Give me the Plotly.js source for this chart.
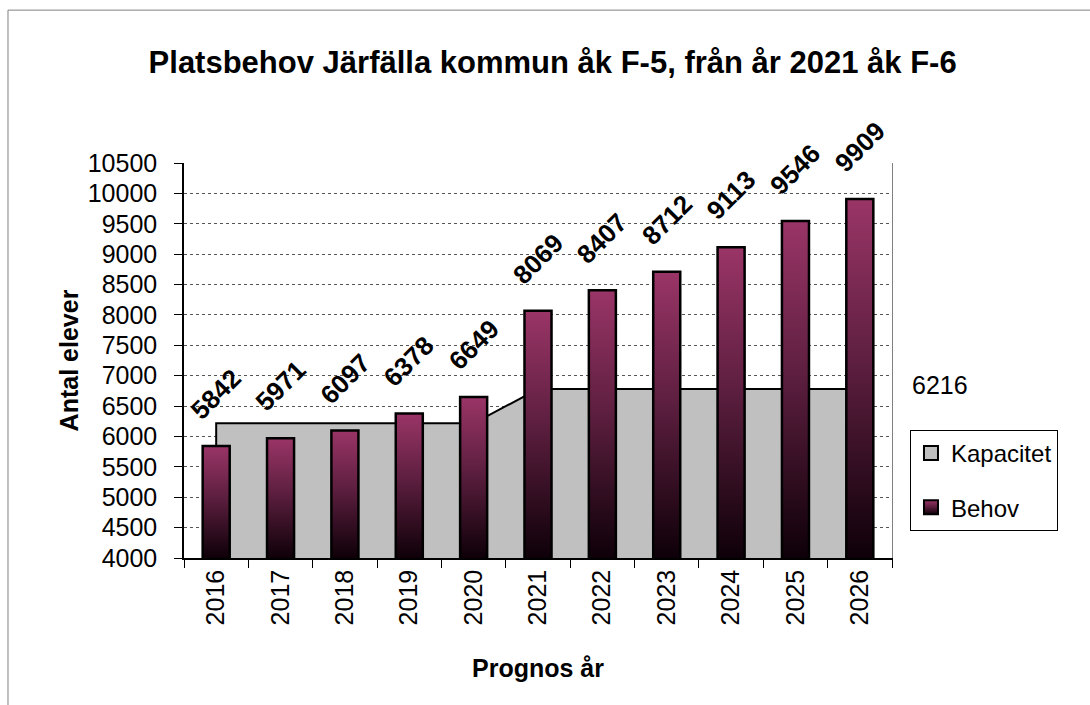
<!DOCTYPE html>
<html>
<head>
<meta charset="utf-8">
<script src="https://cdn.plot.ly/plotly-3.0.1.min.js"></script>
<style>
  html, body { margin: 0; padding: 0; background: #fff; }
  #chart { width: 1090px; height: 705px; }
</style>
</head>
<body>
<div id="chart"></div>
<script>
const years = ['2016', '2017', '2018', '2019', '2020', '2021', '2022', '2023', '2024', '2025', '2026'];
const behov = [5842, 5971, 6097, 6378, 6649, 8069, 8407, 8712, 9113, 9546, 9909];
const kapacitet = [6216, 6216, 6216, 6216, 6216, 6780, 6780, 6780, 6780, 6780, 6780];
const seriesNames = ['Kapacitet', 'Behov'];
const titleText = 'Platsbehov Järfälla kommun åk F-5, från år 2021 åk F-6';
const xTitle = 'Prognos år';
const yTitle = 'Antal elever';

const FONT = 'Liberation Sans, Arial, sans-serif';

const traces = [
  {
    type: 'scatter', mode: 'lines', x: years, y: kapacitet, name: seriesNames[0],
    fill: 'tozeroy', fillcolor: '#c0c0c0', line: { color: '#000', width: 2 },
    xaxis: 'x', yaxis: 'y', legendgroup: 'a', hoverinfo: 'x+y'
  },
  {
    type: 'bar', x: years, y: behov, name: seriesNames[1], width: 0.42,
    marker: { color: '#993366', line: { color: '#000', width: 2.5 } },
    xaxis: 'x', yaxis: 'y2', legendgroup: 'b'
  }
];

const annotations = years.map((yr, i) => ({
  x: i, y: behov[i], xref: 'x', yref: 'y', text: String(behov[i]),
  textangle: -45, showarrow: false, yshift: 52, xshift: 0,
  xanchor: 'center', yanchor: 'middle',
  font: { family: FONT, size: 26, color: '#000', weight: 'bold' }
}));
annotations.push({
  x: 1.0678, y: 0.438, xref: 'paper', yref: 'paper', text: String(kapacitet[0]),
  showarrow: false, xanchor: 'center', yanchor: 'middle',
  font: { family: FONT, size: 25, color: '#000' }
});

const layout = {
  width: 1090, height: 705,
  paper_bgcolor: '#fff', plot_bgcolor: '#fff',
  margin: { l: 184, r: 198, t: 163, b: 147 },
  font: { family: FONT, color: '#000' },
  title: {
    text: titleText, font: { family: FONT, size: 31, color: '#000', weight: 'bold' },
    x: 0.507, xref: 'container', xanchor: 'center',
    y: 1 - 62 / 705, yref: 'container', yanchor: 'middle'
  },
  xaxis: {
    type: 'category', range: [-0.5, 10.5],
    tickson: 'boundaries', ticks: 'outside', ticklen: 8, tickcolor: '#000', tickwidth: 1,
    showline: true, linecolor: '#000', linewidth: 1.5, showgrid: false,
    tickangle: -90, tickfont: { family: FONT, size: 25, color: '#000' },
    title: { text: xTitle, font: { family: FONT, size: 25, color: '#000', weight: 'bold' }, standoff: 35 },
    automargin: false
  },
  yaxis: {
    range: [4000, 10500], dtick: 500, tick0: 4000, tickformat: 'd',
    ticks: 'outside', ticklen: 8, tickcolor: '#000', tickwidth: 1,
    showline: true, linecolor: '#000', linewidth: 1.5,
    showgrid: true, gridcolor: '#555', griddash: 'dot', gridwidth: 1, zeroline: false,
    tickfont: { family: FONT, size: 25, color: '#000' }, ticklabelstandoff: 12,
    title: { text: yTitle, font: { family: FONT, size: 25, color: '#000', weight: 'bold' }, standoff: 2 },
    automargin: false
  },
  yaxis2: {
    overlaying: 'y', side: 'right', range: [4000, 10500],
    showgrid: false, zeroline: false, showticklabels: false, ticks: '',
    showline: true, linecolor: '#808080', linewidth: 1
  },
  showlegend: true,
  legend: {
    x: 1.0254, y: 0.324, xanchor: 'left', yanchor: 'top',
    bordercolor: '#000', borderwidth: 1, bgcolor: '#fff',
    font: { family: FONT, size: 24, color: '#000' },
    traceorder: 'grouped', tracegroupgap: 20
  },
  annotations: annotations,
  shapes: [{
    type: 'rect', xref: 'paper', yref: 'paper',
    x0: -0.2486, x1: 2, y0: -1, y1: 1.387,
    line: { color: '#808080', width: 1 }, fillcolor: 'rgba(0,0,0,0)', layer: 'below'
  }]
};

Plotly.newPlot('chart', traces, layout, { displayModeBar: false }).then(gd => {
  const ns = 'http://www.w3.org/2000/svg';
  const svg = gd.querySelector('.main-svg');
  let defs = svg.querySelector('defs');
  if (!defs) { defs = document.createElementNS(ns, 'defs'); svg.insertBefore(defs, svg.firstChild); }
  const h = gd._fullLayout.yaxis2._length;
  function makeGrad(id, units, y1, y2) {
    const g = document.createElementNS(ns, 'linearGradient');
    g.setAttribute('id', id);
    g.setAttribute('gradientUnits', units);
    g.setAttribute('x1', 0); g.setAttribute('x2', 0);
    g.setAttribute('y1', y1); g.setAttribute('y2', y2);
    [['0', '#9a3567'], ['0.45', '#5e1f40'], ['1', '#0e0008']].forEach(([o, c]) => {
      const s = document.createElementNS(ns, 'stop');
      s.setAttribute('offset', o); s.setAttribute('stop-color', c);
      g.appendChild(s);
    });
    defs.appendChild(g);
  }
  gd.querySelectorAll('.barlayer .trace.bars .point path').forEach((p, i) => {
    const bb = p.getBBox();
    const top = bb.y, bot = Math.min(bb.y + bb.height, h);
    makeGrad('barGrad' + i, 'userSpaceOnUse', top, bot);
    p.style.fill = 'url(#barGrad' + i + ')';
  });
  // close the left edge of the capacity area down to the axis
  gd.querySelectorAll('.scatterlayer .trace .js-line').forEach(p => {
    const d = p.getAttribute('d');
    const m = /^M\s*([-\d.]+)[ ,]([-\d.]+)/.exec(d);
    if (m) p.setAttribute('d', 'M' + m[1] + ',' + h + 'L' + d.slice(1));
  });
  makeGrad('legGrad', 'objectBoundingBox', 0, 1);
  gd.querySelectorAll('.legend .traces').forEach(t => {
    const txt = t.querySelector('text');
    if (!txt) return;
    if (txt.textContent === seriesNames[1]) {
      t.querySelectorAll('.legendpoints path').forEach(p => {
        p.style.fill = 'url(#legGrad)';
        p.setAttribute('d', 'M7,7H-7V-7H7Z');
        p.style.strokeWidth = '2px';
      });
    } else if (txt.textContent === seriesNames[0]) {
      t.querySelectorAll('.legendlines path').forEach(p => { p.style.display = 'none'; });
      t.querySelectorAll('.legendfill path').forEach(p => {
        p.setAttribute('d', 'M13,-7h14v14h-14z');
        p.style.stroke = '#000';
        p.style.strokeWidth = '2px';
      });
    }
  });
});
</script>
</body>
</html>
